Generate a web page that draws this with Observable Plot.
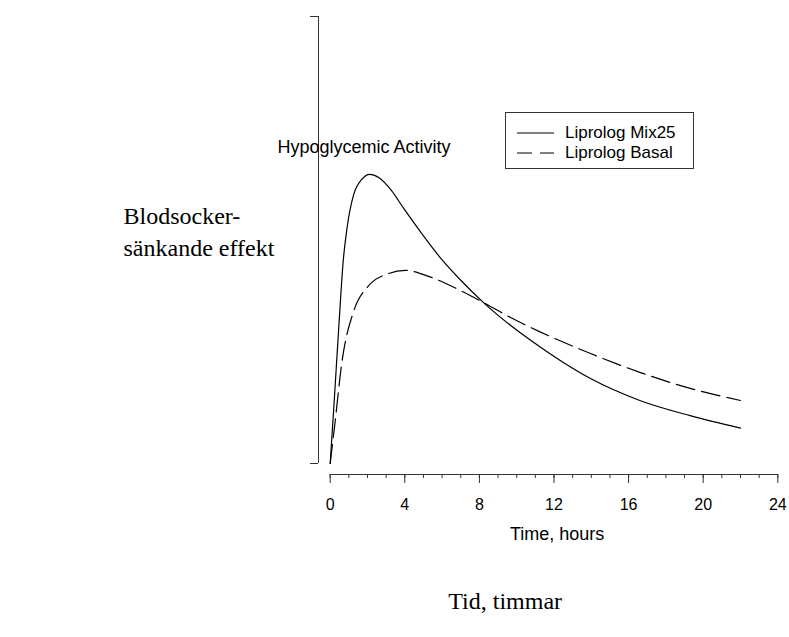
<!DOCTYPE html>
<html><head><meta charset="utf-8">
<script src="https://cdn.jsdelivr.net/npm/d3@7"></script>
<script src="https://cdn.jsdelivr.net/npm/@observablehq/plot@0.6"></script>
<style>
body{margin:0;background:#fff;}
#wrap{position:relative;width:789px;height:637px;overflow:hidden;}
.legend{position:absolute;left:505px;top:112px;width:187px;height:55px;border:1px solid #333;background:#fff;font-family:"Liberation Sans",Arial,sans-serif;font-size:17px;color:#000;}
.legend .row{position:absolute;left:0;height:20px;width:100%;}
.legend svg{position:absolute;left:11px;top:0;}
.legend span{position:absolute;left:59px;top:0;line-height:20px;white-space:nowrap;}
</style></head><body><div id="wrap"></div>
<script>
// Series names / texts
const seriesNames = ["Liprolog Mix25", "Liprolog Basal"];
const xTitle = "Time, hours";
const yTitle = "Hypoglycemic Activity";
const swedishY = "Blodsocker-\nsänkande effekt";
const swedishX = "Tid, timmar";
const xTicks = [0, 4, 8, 12, 16, 20, 24];
const xMinorTicks = [0,1,2,3,4,5,6,7,8,9,10,11,12,13,14,15,16,17,18,19,20,21,22,23,24];

// Liprolog Mix25 (solid)
const mixTime  = [0, 0.23, 0.46, 0.7, 0.91, 1.27, 1.7, 2.12, 2.6, 3.3, 3.95, 4.9, 5.91, 7.0, 8.22, 9.7, 11.28, 12.5, 13.96, 16.6, 19.3, 22];
const mixValue = [0, 15, 30.5, 45.4, 52.9, 60.3, 63.6, 64.7, 64.0, 61.0, 57.0, 51.5, 46.0, 41.0, 36.0, 30.8, 26.0, 22.6, 19.0, 14.1, 10.7, 7.9];

// Liprolog Basal (dashed)
const basalTime  = [0, 0.23, 0.64, 1.27, 1.98, 3.06, 4.04, 5.38, 7.17, 8.22, 9.7, 11.28, 13.96, 16.6, 19.3, 22];
const basalValue = [0, 8.1, 23.0, 34.2, 39.4, 42.4, 43.2, 41.7, 38.3, 36.0, 32.6, 29.4, 24.6, 20.4, 16.8, 14.1];

const mixData = mixTime.map((t, i) => ({t, v: mixValue[i], s: seriesNames[0]}));
const basalData = basalTime.map((t, i) => ({t, v: basalValue[i], s: seriesNames[1]}));

const sans = "'Liberation Sans', Arial, sans-serif";
const serif = "'Liberation Serif', 'Times New Roman', serif";

const plot = Plot.plot({
  width: 789, height: 637,
  marginLeft: 318, marginRight: 11.7, marginTop: 16, marginBottom: 163,
  x: {domain: [0, 24], insetLeft: 11.7},
  y: {domain: [0, 100], insetBottom: 11},
  style: {fontFamily: sans, fontSize: "16px", color: "#000", background: "#fff"},
  marks: [
    Plot.ruleX([0], {y1: 0, y2: 100, dx: -11.7, stroke: "#333"}),
    Plot.axisY({ticks: [0, 100], tickSize: 8, tickFormat: () => "", label: null, stroke: "#333"}),
    Plot.ruleY([0], {x1: 0, x2: 24, dy: 11, stroke: "#333"}),
    Plot.axisX({ticks: xMinorTicks, tickSize: 4, tickFormat: () => "", label: null, stroke: "#333"}),
    Plot.axisX({ticks: xTicks, tickSize: 9, tickPadding: 15, label: null, stroke: "#333", fontSize: 16}),
    Plot.line(mixData, {x: "t", y: "v", curve: "monotone-x", stroke: "#000", strokeWidth: 1.2}),
    Plot.line(basalData, {x: "t", y: "v", curve: "monotone-x", stroke: "#000", strokeWidth: 1.2, strokeDasharray: "19,7"}),
    Plot.text([xTitle], {text: d => d, frameAnchor: "bottom", dx: 9, dy: 65, fontSize: 18}),
    Plot.text([yTitle], {text: d => d, frameAnchor: "top-left", textAnchor: "start", dx: -41, dy: 124, fontSize: 18}),
    Plot.text([swedishY], {text: d => d, frameAnchor: "top-left", textAnchor: "start", dx: -195, dy: 185, fontFamily: serif, fontSize: 24, lineHeight: 1.33}),
    Plot.text([swedishX], {text: d => d, frameAnchor: "bottom", dx: -43, dy: 134, fontFamily: serif, fontSize: 24})
  ]
});

const wrap = document.getElementById("wrap");
wrap.appendChild(plot);

// Legend
const legend = document.createElement("div");
legend.className = "legend";
const dashes = [null, "15,8"];
seriesNames.forEach((name, i) => {
  const row = document.createElement("div");
  row.className = "row";
  row.style.top = (10 + i * 20) + "px";
  const svg = d3.create("svg").attr("width", 38).attr("height", 20);
  svg.append("line").attr("x1", 0).attr("x2", 37).attr("y1", 10).attr("y2", 10)
    .attr("stroke", "#000").attr("stroke-width", 1.2)
    .attr("stroke-dasharray", dashes[i]);
  row.appendChild(svg.node());
  const span = document.createElement("span");
  span.textContent = name;
  row.appendChild(span);
  legend.appendChild(row);
});
wrap.appendChild(legend);
</script>
</body></html>
